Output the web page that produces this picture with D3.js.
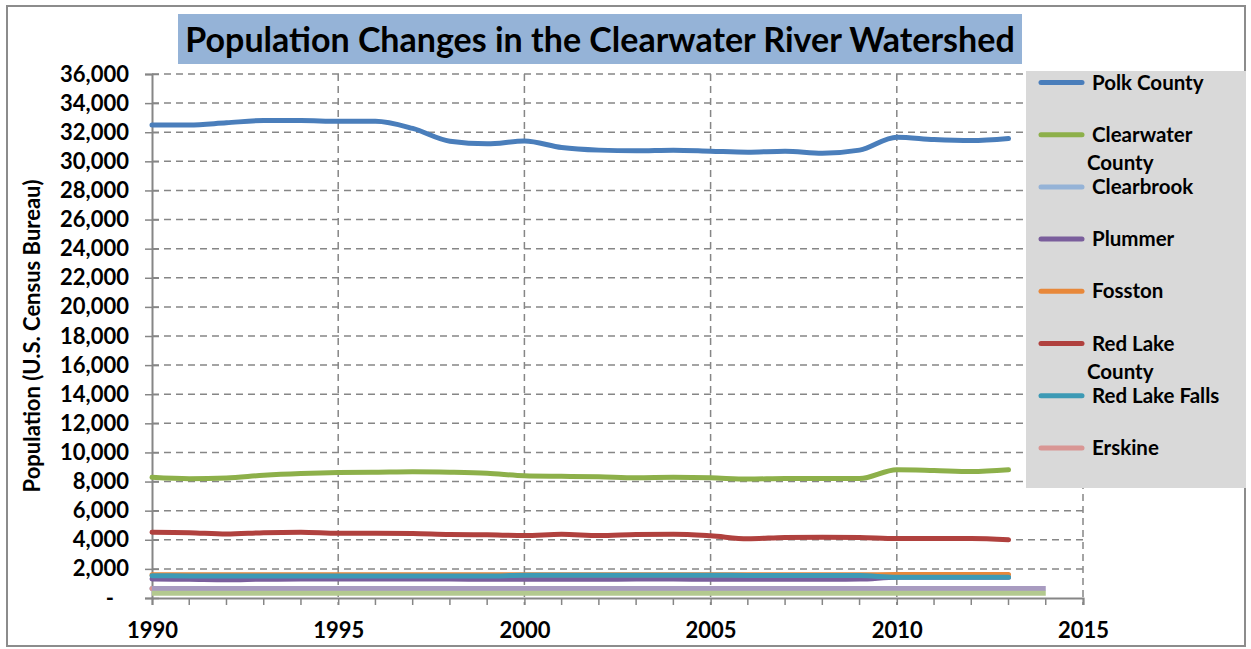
<!DOCTYPE html>
<html><head><meta charset="utf-8">
<script src="https://cdn.jsdelivr.net/npm/d3@7"></script>
<style>
html,body{margin:0;padding:0;background:#fff;}
svg{display:block;font-family:Lato,"Open Sans",sans-serif;font-weight:bold;}
</style></head>
<body><svg id="c" width="1251" height="649"></svg>
<script>
const years = [1990,1991,1992,1993,1994,1995,1996,1997,1998,1999,2000,2001,2002,2003,2004,2005,2006,2007,2008,2009,2010,2011,2012,2013];
const yearsExt = [1990,1991,1992,1993,1994,1995,1996,1997,1998,1999,2000,2001,2002,2003,2004,2005,2006,2007,2008,2009,2010,2011,2012,2013,2014];
const polk = [32500,32500,32650,32800,32800,32750,32750,32260,31380,31200,31400,30950,30770,30720,30770,30700,30630,30700,30560,30770,31660,31500,31430,31570];
const clearwater = [8290,8190,8240,8430,8550,8620,8640,8670,8640,8570,8400,8360,8330,8260,8290,8260,8170,8210,8210,8210,8810,8760,8690,8810];
const clearbrook = [650,650,650,650,650,650,650,650,650,650,650,650,650,650,650,650,650,650,650,650,650,650,650,650];
const plummer = [1300,1280,1250,1290,1300,1300,1300,1300,1300,1290,1290,1290,1290,1300,1300,1290,1290,1290,1290,1300,1430,1430,1430,1430];
const fosston = [1600,1600,1600,1600,1600,1600,1600,1600,1600,1600,1600,1600,1600,1600,1600,1600,1600,1600,1600,1600,1610,1610,1610,1610];
const redLakeCounty = [4520,4490,4400,4490,4520,4450,4450,4430,4360,4340,4290,4380,4290,4360,4380,4270,4070,4160,4180,4160,4090,4090,4090,4000];
const redLakeFalls = [1530,1520,1510,1520,1520,1520,1520,1520,1510,1510,1560,1560,1560,1560,1560,1560,1550,1550,1550,1540,1430,1430,1430,1430];
const erskine = [650,650,650,650,650,650,650,650,650,650,650,650,650,650,650,650,650,650,650,650,650,650,650,650];
const unlabeledA = [650,650,650,650,650,650,650,650,650,650,650,650,650,650,650,650,650,650,650,650,650,650,650,650,650];
const unlabeledB = [320,320,320,320,320,320,320,320,320,320,320,320,320,320,320,320,320,320,320,320,320,320,320,320,320];
const seriesNames = ["Polk County","Clearwater County","Clearbrook","Plummer","Fosston","Red Lake County","Red Lake Falls","Erskine"];
const seriesColors = ["#4a7ebb","#8db04a","#95b3d7","#7a5e9c","#e8883a","#b0413e","#3d9ab5","#d99694"];
const seriesData = [polk,clearwater,clearbrook,plummer,fosston,redLakeCounty,redLakeFalls,erskine];
const yTicks = [0,2000,4000,6000,8000,10000,12000,14000,16000,18000,20000,22000,24000,26000,28000,30000,32000,34000,36000];
const xTicks = [1990,1995,2000,2005,2010,2015];
const title = "Population Changes in the Clearwater River Watershed";
const yTitle = "Population (U.S. Census Bureau)";

const svg = d3.select("#c");
const x = d3.scaleLinear().domain([1990,2015]).range([152,1083]);
const y = d3.scaleLinear().domain([0,36000]).range([598,74]);
const grid = "#868686";

// outer frame
svg.append("rect").attr("x",7).attr("y",6).attr("width",1238).attr("height",640)
  .attr("fill","#fff").attr("stroke","#8c8c8c").attr("stroke-width",2);

// horizontal gridlines
svg.append("g").selectAll("line").data(yTicks.filter(d=>d>0)).join("line")
  .attr("x1",x(1990)).attr("x2",x(2015)).attr("y1",d=>y(d)).attr("y2",d=>y(d))
  .attr("stroke",grid).attr("stroke-width",1.5).attr("stroke-dasharray","7,5");
// vertical gridlines
svg.append("g").selectAll("line").data(xTicks.filter(d=>d>1990)).join("line")
  .attr("x1",d=>x(d)).attr("x2",d=>x(d)).attr("y1",y(36000)).attr("y2",605)
  .attr("stroke",grid).attr("stroke-width",1.5).attr("stroke-dasharray","7,5");

// y axis
const yAxis = d3.axisLeft(y).tickValues(yTicks).tickSize(7).tickPadding(16)
  .tickFormat(d=> d===0 ? "-" : d3.format(",")(d));
const gy = svg.append("g").attr("transform",`translate(${x(1990)},0)`).call(yAxis);
gy.select(".domain").attr("stroke",grid).attr("stroke-width",2);
gy.selectAll(".tick line").attr("stroke",grid).attr("stroke-width",1.5).attr("x2",-7).attr("x1",7);
gy.selectAll(".tick text").attr("fill","#000").style("font-size","22px").style("font-family","Lato").style("font-weight","bold");
gy.selectAll(".tick text").filter(d=>d===0).attr("x",-38);

// x axis
const xAxis = d3.axisBottom(x).tickValues(xTicks).tickSize(7).tickPadding(17).tickFormat(d3.format("d"));
const gx = svg.append("g").attr("transform",`translate(0,${y(0)})`).call(xAxis);
gx.select(".domain").attr("stroke",grid).attr("stroke-width",2);
gx.selectAll(".tick line").attr("stroke",grid).attr("stroke-width",1.5);
gx.selectAll(".tick text").attr("fill","#000").style("font-size","22px").style("font-family","Lato").style("font-weight","bold");
// minor ticks each year
const minor = d3.range(1991,2015).filter(d=>d%5!==0);
svg.append("g").selectAll("line").data(minor).join("line")
  .attr("x1",d=>x(d)).attr("x2",d=>x(d)).attr("y1",y(0)).attr("y2",y(0)+7)
  .attr("stroke",grid).attr("stroke-width",1.5);

// lines
const line = d3.line().x(d=>x(d[0])).y(d=>y(d[1])).curve(d3.curveMonotoneX);
const lg = svg.append("g").attr("fill","none").attr("stroke-linejoin","round").attr("stroke-linecap","round");
seriesData.forEach((vals,i)=>{
  lg.append("path").datum(years.map((yr,j)=>[yr,vals[j]]))
    .attr("d",line).attr("stroke",seriesColors[i]).attr("stroke-width",5);
});
lg.append("path").datum(yearsExt.map((yr,j)=>[yr,unlabeledA[j]])).attr("d",line)
  .attr("stroke","#a89bc0").attr("stroke-width",5).attr("stroke-linecap","butt");
lg.append("path").datum(yearsExt.map((yr,j)=>[yr,unlabeledB[j]])).attr("d",line)
  .attr("stroke","#b3c98f").attr("stroke-width",5).attr("stroke-linecap","butt");

// legend
const leg = svg.append("g");
leg.append("rect").attr("x",1026).attr("y",71).attr("width",220).attr("height",417).attr("fill","#d9d9d9");
const legLines = [["Polk County"],["Clearwater","County"],["Clearbrook"],["Plummer"],["Fosston"],["Red Lake","County"],["Red Lake Falls"],["Erskine"]];
legLines.forEach((lines,i)=>{
  const yy = 82.5 + i*52.2;
  leg.append("line").attr("x1",1041).attr("x2",1082).attr("y1",yy).attr("y2",yy)
    .attr("stroke",seriesColors[i]).attr("stroke-width",5).attr("stroke-linecap","round");
  lines.forEach((t,k)=>{
    leg.append("text").attr("x",k===0?1092:1087).attr("y",yy+7+k*28).text(t)
      .style("font-size","20.5px").attr("fill","#000");
  });
});

// title
svg.append("rect").attr("x",178).attr("y",14).attr("width",844).attr("height",50).attr("fill","#95b3d7");
svg.append("text").attr("x",600).attr("y",52).attr("text-anchor","middle").text(title)
  .style("font-size","34px").attr("fill","#000");

// y title
svg.append("text").attr("transform","translate(40,336) rotate(-90)").attr("text-anchor","middle")
  .text(yTitle).style("font-size","22px").attr("fill","#000");
</script></body></html>
